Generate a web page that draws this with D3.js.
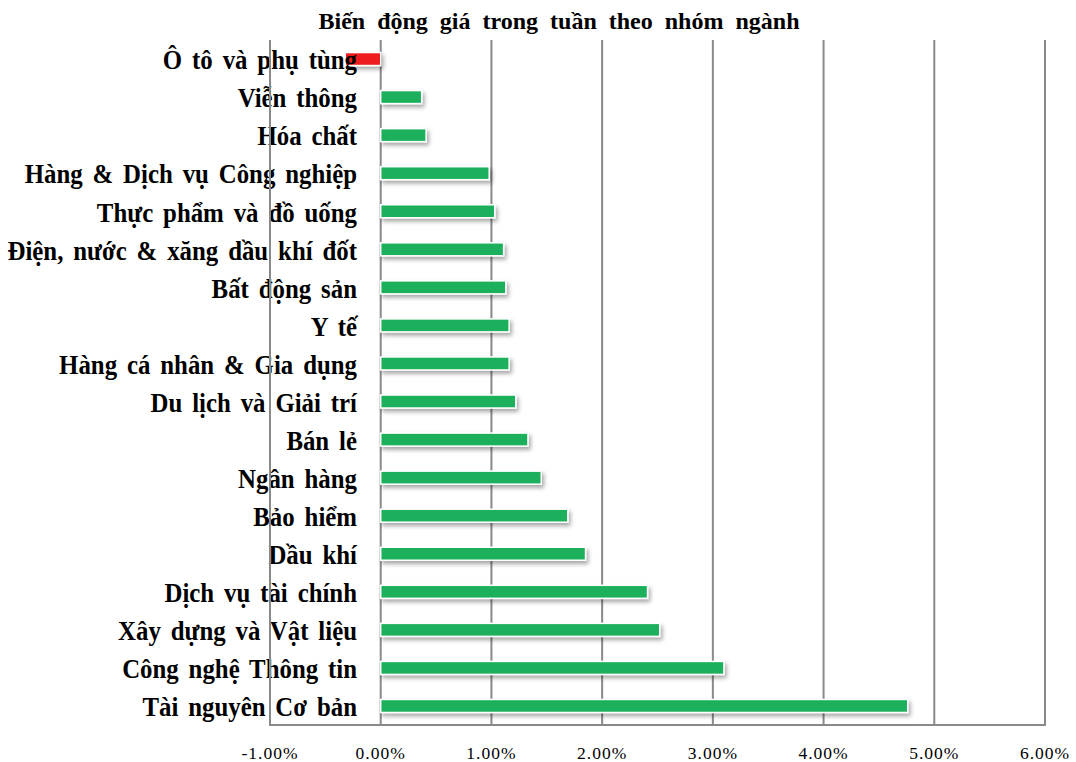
<!DOCTYPE html>
<html>
<head>
<meta charset="utf-8">
<script src="https://cdn.jsdelivr.net/npm/d3@7"></script>
<style>
  body { margin: 0; background: #fff; }
  svg { font-family: "Liberation Serif", "Times New Roman", serif; }
</style>
</head>
<body>
<svg id="chart" width="1076" height="762"></svg>
<script>
var categories = [
  'Ô tô và phụ tùng', 'Viễn thông', 'Hóa chất', 'Hàng & Dịch vụ Công nghiệp',
  'Thực phẩm và đồ uống', 'Điện, nước & xăng dầu khí đốt', 'Bất động sản', 'Y tế',
  'Hàng cá nhân & Gia dụng', 'Du lịch và Giải trí', 'Bán lẻ', 'Ngân hàng',
  'Bảo hiểm', 'Dầu khí', 'Dịch vụ tài chính', 'Xây dựng và Vật liệu',
  'Công nghệ Thông tin', 'Tài nguyên Cơ bản'
];
var values = [
  -0.32, 0.37, 0.41, 0.98,
  1.03, 1.11, 1.13, 1.16,
  1.16, 1.22, 1.33, 1.45,
  1.69, 1.85, 2.41, 2.52,
  3.10, 4.76
];
var ticks = [-1, 0, 1, 2, 3, 4, 5, 6];
var title = 'Biến động  giá trong tuần theo nhóm ngành';

var svg = d3.select('#chart');
var plotLeft = 270, plotRight = 1045, plotTop = 40, plotBottom = 725;

var x = d3.scaleLinear().domain([-1, 6]).range([plotLeft, plotRight]);
var y = d3.scaleBand().domain(categories).range([plotTop, plotBottom]);

var defs = svg.append('defs');
defs.append('filter').attr('id', 'shadow')
  .attr('x', '-10%').attr('y', '-50%').attr('width', '130%').attr('height', '250%')
  .append('feDropShadow')
  .attr('dx', 2).attr('dy', 3).attr('stdDeviation', 2)
  .attr('flood-color', '#000').attr('flood-opacity', 0.35);

// gridlines
svg.append('g').selectAll('line').data(ticks.slice(1)).enter().append('line')
  .attr('x1', d => x(d)).attr('x2', d => x(d))
  .attr('y1', plotTop).attr('y2', plotBottom)
  .attr('stroke', '#898989').attr('stroke-width', 2);

// bars
var barH = 13;
svg.append('g').selectAll('rect').data(values).enter().append('rect')
  .attr('x', d => x(Math.min(0, d)))
  .attr('y', (d, i) => y(categories[i]) + y.bandwidth() / 2 - barH / 2)
  .attr('width', d => Math.abs(x(d) - x(0)))
  .attr('height', barH)
  .attr('fill', d => d < 0 ? '#ee1c1c' : '#1bb05c')
  .attr('stroke', '#fff').attr('stroke-width', 1.5)
  .attr('filter', 'url(#shadow)');

// category labels (slightly condensed, like the original)
svg.append('g').selectAll('text').data(categories).enter().append('text')
  .attr('transform', d => 'translate(357,' + (y(d) + y.bandwidth() / 2) + ') scale(0.92,1)')
  .attr('dy', '0.38em')
  .attr('text-anchor', 'end')
  .attr('font-size', 27).attr('font-weight', 'bold')
  .attr('word-spacing', 4)
  .attr('fill', '#000')
  .text(d => d);

// left and bottom frame
svg.append('line').attr('x1', plotLeft).attr('x2', plotLeft).attr('y1', plotTop).attr('y2', plotBottom)
  .attr('stroke', '#898989').attr('stroke-width', 2);
svg.append('line').attr('x1', plotLeft - 1).attr('x2', plotRight + 1).attr('y1', plotBottom).attr('y2', plotBottom)
  .attr('stroke', '#898989').attr('stroke-width', 2);

// x tick labels
svg.append('g').selectAll('text').data(ticks).enter().append('text')
  .attr('x', d => x(d))
  .attr('y', 759)
  .attr('text-anchor', 'middle')
  .attr('font-size', 17.5)
  .attr('letter-spacing', 1)
  .attr('fill', '#000')
  .text(d => d3.format('.2f')(d).replace('\u2212', '-') + '%');

svg.append('text')
  .attr('x', 559).attr('y', 29)
  .attr('text-anchor', 'middle')
  .attr('font-size', 24).attr('font-weight', 'bold')
  .attr('word-spacing', 6)
  .attr('fill', '#000')
  .text(title);
</script>
</body>
</html>
